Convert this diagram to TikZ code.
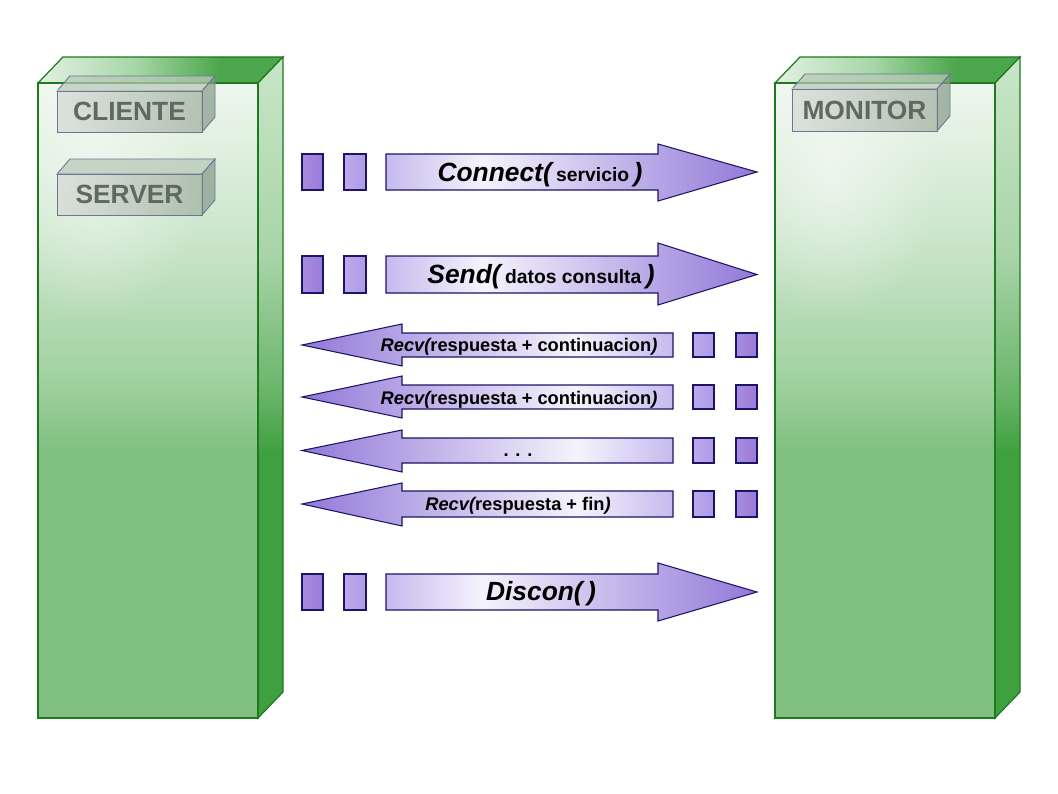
\documentclass[tikz,border=0pt]{standalone}
\usepackage{fontspec}
\setmainfont{Liberation Sans}
\usetikzlibrary{fadings}
\definecolor{pa}{HTML}{C6BAEE}
\definecolor{pb}{HTML}{F5F3FC}
\definecolor{pc}{HTML}{9278D8}
\definecolor{pedge}{HTML}{1C1466}
\definecolor{sqdark}{HTML}{9A7ADA}
\definecolor{sqdarkl}{HTML}{A88CE0}
\definecolor{sqlight}{HTML}{AE9AE6}
\definecolor{sqlightl}{HTML}{BCAAEA}
\definecolor{gA}{HTML}{EEF7EE}
\definecolor{gB}{HTML}{C8E4C8}
\definecolor{gC}{HTML}{A2D2A2}
\definecolor{gD}{HTML}{80C080}
\definecolor{tA}{HTML}{E2F1E2}
\definecolor{tB}{HTML}{A6D6A6}
\definecolor{tC}{HTML}{4CA64C}
\definecolor{sA}{HTML}{C8E6C8}
\definecolor{sB}{HTML}{A8D4A8}
\definecolor{sC}{HTML}{6CB66C}
\definecolor{sD}{HTML}{3FA03F}
\definecolor{gedge}{HTML}{1F7A1F}
\definecolor{bedge}{HTML}{6A7896}
\definecolor{bfrontl}{HTML}{D6DAD6}
\definecolor{bfrontr}{HTML}{A0B0A0}
\definecolor{btop}{HTML}{B8C8B8}
\definecolor{bside}{HTML}{8A9C8A}
\definecolor{btext}{HTML}{5E6A5E}
\pgfdeclarehorizontalshading{rarr}{100bp}{color(0bp)=(pa); color(25bp)=(pa); color(38bp)=(pb); color(75bp)=(pc); color(100bp)=(pc)}
\pgfdeclarehorizontalshading{larr}{100bp}{color(0bp)=(pc); color(25bp)=(pc); color(62bp)=(pb); color(75bp)=(pa); color(100bp)=(pa)}
\pgfdeclareverticalshading{pfront}{100bp}{color(0bp)=(gD); color(25bp)=(gD); color(46bp)=(gD); color(52bp)=(gC); color(62bp)=(gB); color(75bp)=(gA); color(100bp)=(gA)}
\pgfdeclarehorizontalshading{ptop}{100bp}{color(0bp)=(tA); color(25bp)=(tA); color(45bp)=(tB); color(62bp)=(tC); color(100bp)=(tC)}
\pgfdeclareverticalshading{pside}{100bp}{color(0bp)=(sD); color(25bp)=(sD); color(45bp)=(sD); color(50bp)=(sC); color(60bp)=(sB); color(75bp)=(sA); color(100bp)=(sA)}
\tikzfading[name=glow, inner color=transparent!15, outer color=transparent!100]
\tikzset{
  arrline/.style={draw=pedge, line width=0.6pt},
  rshade/.style={arrline, shading=rarr},
  lshade/.style={arrline, shading=larr},
  sqA/.style={arrline, left color=sqdarkl, right color=sqdark},
  sqB/.style={arrline, left color=sqlightl, right color=sqlight},
  bigtxt/.style={font=\fontsize{15}{18}\selectfont\bfseries\itshape, inner sep=0pt, anchor=base},
  midtxt/.style={font=\fontsize{10.4}{13}\selectfont\bfseries, inner sep=0pt, anchor=base},
  lbltxt/.style={font=\fontsize{15}{18}\selectfont\bfseries, text=btext, inner sep=0pt},
  pedgestyle/.style={draw=gedge, line width=0.7pt},
  bedgestyle/.style={draw=bedge, line width=0.5pt, fill opacity=0.72}
}
% pillar: x1 y1 x2 y2 (front face), depth 25/26
\newcommand{\mypillar}[4]{%
  \path[pedgestyle, shading=ptop] (#1,#2) -- (#1+25,#2-26) -- (#3+25,#2-26) -- (#3,#2) -- cycle;
  \path[pedgestyle, shading=pside] (#3,#2) -- (#3+25,#2-26) -- (#3+25,#4-26) -- (#3,#4) -- cycle;
  \path[pedgestyle, shading=pfront] (#1,#2) rectangle (#3,#4);
  \begin{scope}
    \clip (#1,#2) rectangle (#3,#4);
    \fill[white, path fading=glow, opacity=0.6] (#1+55,#2+90) ellipse [x radius=110, y radius=150];
  \end{scope}
  \draw[pedgestyle] (#1,#2) rectangle (#3,#4);
}
% label box: x1 y1 x2 y2 name text, depth 13/15
\newcommand{\mylabelbox}[6]{%
  \path[bedgestyle, fill=btop] (#1,#2) -- (#1+13,#2-15) -- (#3+13,#2-15) -- (#3,#2) -- cycle;
  \path[bedgestyle, fill=bside] (#3,#2) -- (#3+13,#2-15) -- (#3+13,#4-15) -- (#3,#4) -- cycle;
  \path[bedgestyle, left color=bfrontl, right color=bfrontr] (#1,#2) rectangle (#3,#4);
  \node[lbltxt] (#5) at ({(#1+#3)/2},{(#2+#4)/2}) {#6};
}
% right arrow: body top, body bottom, head top, head bottom, tip name
\newcommand{\myrarrow}[5]{%
  \path[sqA] (302,#1) rectangle (323,#2);
  \path[sqB] (344,#1) rectangle (366,#2);
  \path[rshade] (386,#1) -- (658,#1) -- (658,#3) -- (757,{(#1+#2)/2}) coordinate (#5) -- (658,#4) -- (658,#2) -- (386,#2) -- cycle;
}
\newcommand{\mylarrow}[5]{%
  \path[sqB] (693,#1) rectangle (714,#2);
  \path[sqA] (736,#1) rectangle (757,#2);
  \path[lshade] (673,#1) -- (402,#1) -- (402,#3) -- (302,{(#1+#2)/2}) coordinate (#5) -- (402,#4) -- (402,#2) -- (673,#2) -- cycle;
}
\begin{document}
\begin{tikzpicture}[x=0.02cm, y=-0.02cm]
\useasboundingbox (0,0) rectangle (1058,794);
\fill[white] (0,0) rectangle (1058,794);
% pillars
\mypillar{38}{83}{258}{718}
\mypillar{775}{83}{995}{718}
% labels
\mylabelbox{57}{91}{202}{132}{cliente}{CLIENTE}
\mylabelbox{57}{174}{202}{215}{server}{SERVER}
\mylabelbox{792}{89}{937}{131}{monitor}{MONITOR}
% arrows
\myrarrow{154}{190}{144}{201}{a1}
\node[bigtxt] (t1) at (540,181) {Connect(\,{\fontsize{11}{13}\selectfont\upshape servicio}\,)};
\myrarrow{256}{293}{243}{305}{a2}
\node[bigtxt] (t2) at (541,283) {Send(\,{\fontsize{11}{13}\selectfont\upshape datos consulta}\,)};
\mylarrow{333}{357}{324}{366}{a3}
\node[midtxt] (t3) at (519,351) {\itshape Recv(\upshape respuesta + continuacion\itshape )};
\mylarrow{385}{409}{376}{418}{a4}
\node[midtxt] (t4) at (519,404) {\itshape Recv(\upshape respuesta + continuacion\itshape )};
\mylarrow{438}{463}{430}{472}{a5}
\node[midtxt] (t5) at (518,456) {. . .};
\mylarrow{491}{517}{483}{526}{a6}
\node[midtxt] (t6) at (518,510) {\itshape Recv(\upshape respuesta + fin\itshape )};
\myrarrow{574}{610}{563}{621}{a7}
\node[bigtxt] (t7) at (541,600) {Discon(\,)};
\end{tikzpicture}
\end{document}
